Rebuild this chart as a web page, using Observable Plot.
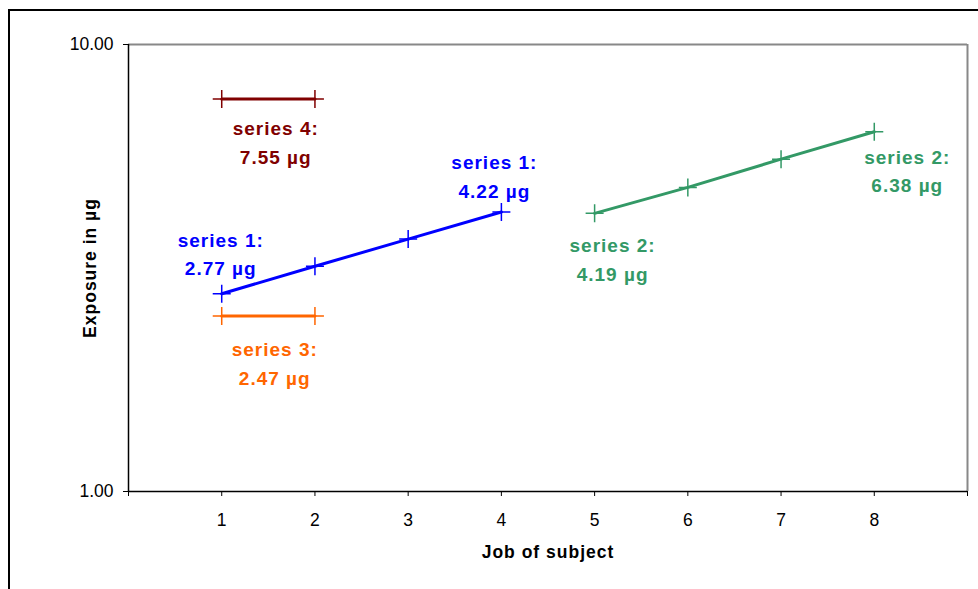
<!DOCTYPE html>
<html>
<head>
<meta charset="utf-8">
<script src="https://cdn.jsdelivr.net/npm/d3@7"></script>
<script src="https://cdn.jsdelivr.net/npm/@observablehq/plot@0.6"></script>
<style>
  html, body { margin: 0; padding: 0; background: #fff; overflow: hidden; }
  #wrap { position: relative; width: 978px; height: 589px; }
  #frame { position: absolute; left: 8px; top: 9px; width: 2000px; height: 2000px;
           border-left: 2px solid #000; border-top: 2px solid #000; pointer-events: none; }
</style>
</head>
<body>
<div id="wrap"><div id="frame"></div></div>
<script>
// ---- data ----
const seriesNames = ["series 1", "series 2", "series 3", "series 4"];
const seriesColors = ["#0000ff", "#339966", "#ff6600", "#800000"];
const jobs1 = [1, 2, 3, 4];
const series1 = [2.77, 3.19, 3.67, 4.22];
const jobs2 = [5, 6, 7, 8];
const series2 = [4.19, 4.79, 5.54, 6.38];
const jobs3 = [1, 2];
const series3 = [2.47, 2.47];
const jobs4 = [1, 2];
const series4 = [7.55, 7.55];
const xTicks = [0, 1, 2, 3, 4, 5, 6, 7, 8, 9];
const yTicks = [1, 10];
const xLabel = "Job of subject";
const yLabel = "Exposure in µg";
// labelled points
const labelSeries = ["series 1", "series 1", "series 2", "series 2", "series 3", "series 4"];
const labelJobs = [1, 4, 5, 8, 1, 1];
const labelValues = [2.77, 4.22, 4.19, 6.38, 2.47, 7.55];

// ---- build tables ----
const allJobs = [jobs1, jobs2, jobs3, jobs4];
const allVals = [series1, series2, series3, series4];
const rows = seriesNames.flatMap((s, i) => allJobs[i].map((j, k) => ({series: s, job: j, value: allVals[i][k]})));
const labels = labelSeries.map((s, i) => ({series: s, job: labelJobs[i], value: labelValues[i],
  text: `${s}:\n${labelValues[i].toFixed(2)} µg`}));
const colorOf = s => seriesColors[seriesNames.indexOf(s)];

// label offsets in pixels (styling)
const labelOffsets = [[-1, -42], [-7, -38], [18, 44], [33, 37], [53, 45], [54, 41]];

const plusSymbol = {
  draw(context, size) {
    const r = Math.sqrt(size / Math.PI);
    context.moveTo(-r, 0); context.lineTo(r, 0);
    context.moveTo(0, -r); context.lineTo(0, r);
  }
};

const marks = [
  Plot.ruleY([10], {stroke: "#888", strokeWidth: 2}),
  Plot.ruleX([9], {stroke: "#888", strokeWidth: 2}),
  Plot.ruleX([0], {stroke: "#000", strokeWidth: 1.5}),
  Plot.ruleY([1], {stroke: "#000", strokeWidth: 1.5}),
  ...seriesNames.map(s => Plot.line(rows.filter(d => d.series === s), {
    x: "job", y: "value", stroke: colorOf(s), strokeWidth: 3
  })),
  ...seriesNames.map(s => Plot.dot(rows.filter(d => d.series === s), {
    x: "job", y: "value", r: 9, symbol: plusSymbol, stroke: colorOf(s), fill: "none", strokeWidth: 1.5
  })),
  ...labels.map((d, i) => Plot.text([d], {
    x: "job", y: "value", text: "text", fill: colorOf(d.series),
    fontWeight: "bold", fontSize: 19, lineHeight: 1.52, lineAnchor: "middle",
    dx: labelOffsets[i][0], dy: labelOffsets[i][1]
  })),
  Plot.text([xLabel], {frameAnchor: "bottom", dy: 66, text: d => d, fontWeight: "bold", fontSize: 17.5, fill: "#000"}),
  Plot.text([yLabel], {frameAnchor: "left", dx: -38, rotate: -90, textAnchor: "middle", text: d => d, fontWeight: "bold", fontSize: 17.5, fill: "#000"})
];

const chart = Plot.plot({
  width: 978,
  height: 589,
  marginLeft: 128,
  marginRight: 11,
  marginTop: 44,
  marginBottom: 98,
  style: {fontFamily: "'Liberation Sans', Arial, sans-serif", fontSize: "17.5px", background: "transparent", color: "#000"},
  x: {domain: [0, 9], ticks: xTicks, tickFormat: d => (d >= 1 && d <= 8 ? String(d) : ""), tickSize: 5, tickPadding: 17, label: null},
  y: {type: "log", domain: [1, 10], ticks: yTicks, tickFormat: ".2f", tickSize: 5, tickPadding: 10, label: null},
  marks
});

d3.select(chart).selectAll('g[aria-label="text"] text').style("letter-spacing", "1px");
chart.style.position = "absolute";
chart.style.left = "0px";
chart.style.top = "0px";
document.getElementById("wrap").appendChild(chart);
</script>
</body>
</html>
